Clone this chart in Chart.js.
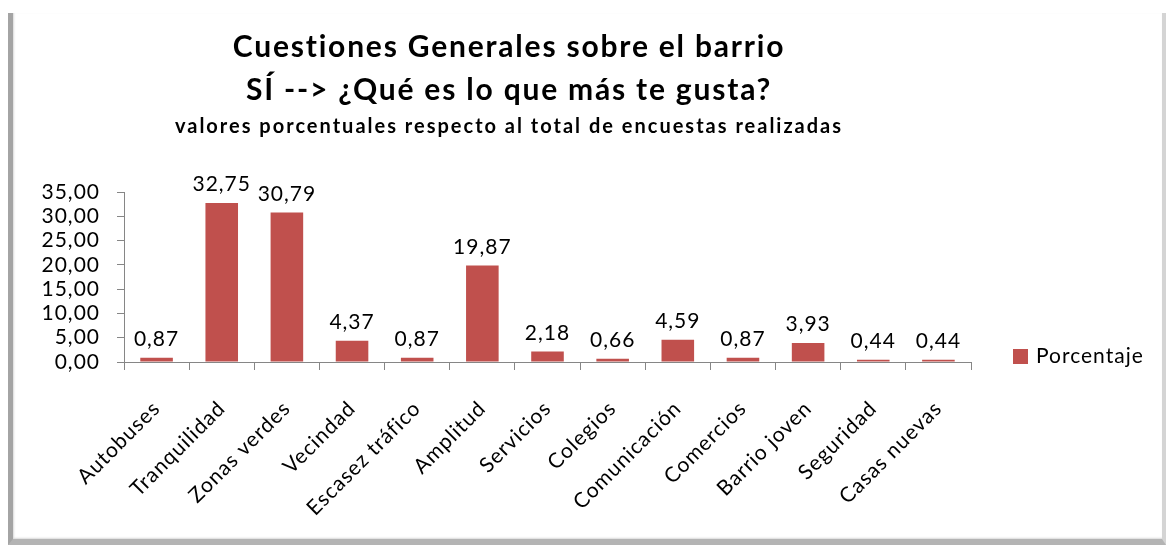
<!DOCTYPE html>
<html>
<head>
<meta charset="utf-8">
<script src="https://cdn.jsdelivr.net/npm/chart.js@4"></script>
<style>
  html, body { margin: 0; padding: 0; background: #fff; }
  #wrap { position: relative; width: 1166px; height: 545px; overflow: hidden; }
  #frame {
    position: absolute; left: 8px; top: 13px; width: 1158px; height: 532px; box-sizing: border-box;
    border-left: 5px solid #a4a4a4; border-bottom: 6px solid #b4b4b4; border-right: 4px solid #d4d4d4;
    box-shadow: inset 1px -1px 2px rgba(0,0,0,0.15);
  }
  #barrioChart { position: absolute; left: 0; top: 0; }
</style>
</head>
<body>
<div id="wrap">
  <div id="frame"></div>
  <canvas id="barrioChart" width="1166" height="545"></canvas>
</div>
<script>
const categories = ['Autobuses', 'Tranquilidad', 'Zonas verdes', 'Vecindad', 'Escasez tráfico', 'Amplitud',
  'Servicios', 'Colegios', 'Comunicación', 'Comercios', 'Barrio joven', 'Seguridad', 'Casas nuevas'];
const porcentaje = [0.87, 32.75, 30.79, 4.37, 0.87, 19.87, 2.18, 0.66, 4.59, 0.87, 3.93, 0.44, 0.44];
const titleLines = ['Cuestiones Generales sobre el barrio', 'SÍ --> ¿Qué es lo que más te gusta?'];
const subtitleText = 'valores porcentuales respecto al total de encuestas realizadas';

const FONT = 'Lato, "DejaVu Sans", sans-serif';
const BAR_COLOR = '#C0504D';
const fmt = v => v.toFixed(2).replace('.', ',');

// slightly loose letter spacing for every text on the canvas
const spacing = {
  id: 'spacing',
  beforeInit(chart) { chart.ctx.letterSpacing = '1px'; },
  beforeDraw(chart) { chart.ctx.letterSpacing = '1px'; }
};

// titles, centred a bit left of the middle of the canvas
const titlePlugin = {
  id: 'titles',
  afterDraw(chart) {
    const ctx = chart.ctx;
    ctx.save();
    ctx.fillStyle = '#000';
    ctx.textAlign = 'center';
    ctx.textBaseline = 'alphabetic';
    ctx.letterSpacing = '1.8px';
    ctx.font = 'bold 30px ' + FONT;
    ctx.fillText(titleLines[0], 509, 57);
    ctx.fillText(titleLines[1], 509, 100);
    ctx.letterSpacing = '2px';
    ctx.font = 'bold 20px ' + FONT;
    ctx.fillText(subtitleText, 509, 133);
    ctx.restore();
  }
};

// value labels above each bar
const valueLabels = {
  id: 'valueLabels',
  afterDatasetsDraw(chart) {
    const ctx = chart.ctx;
    const meta = chart.getDatasetMeta(0);
    ctx.save();
    ctx.fillStyle = '#000';
    ctx.font = '21px ' + FONT;
    ctx.textAlign = 'center';
    ctx.textBaseline = 'bottom';
    meta.data.forEach((bar, i) => {
      ctx.fillText(fmt(porcentaje[i]), bar.x, bar.y - 8);
    });
    ctx.restore();
  }
};

// legend entry sitting level with the x axis, right of the plot
const sideLegend = {
  id: 'sideLegend',
  afterDraw(chart) {
    const ctx = chart.ctx;
    const ds = chart.data.datasets[0];
    const y = chart.chartArea.bottom - 6;
    const x = chart.chartArea.right + 42;
    ctx.save();
    ctx.fillStyle = ds.backgroundColor;
    ctx.fillRect(x, y - 7, 15, 15);
    ctx.fillStyle = '#000';
    ctx.font = '21px ' + FONT;
    ctx.textAlign = 'left';
    ctx.textBaseline = 'middle';
    ctx.fillText(ds.label, x + 23, y);
    ctx.restore();
  }
};

new Chart(document.getElementById('barrioChart'), {
  type: 'bar',
  data: {
    labels: categories,
    datasets: [{
      label: 'Porcentaje',
      data: porcentaje,
      backgroundColor: BAR_COLOR,
      barPercentage: 1.0,
      categoryPercentage: 0.5
    }]
  },
  options: {
    responsive: false,
    animation: false,
    layout: { padding: { top: 192, left: 0, right: 195, bottom: 0 } },
    plugins: {
      legend: { display: false },
      tooltip: { enabled: false }
    },
    scales: {
      y: {
        min: 0,
        max: 35,
        afterFit(scale) { scale.width = 124; },
        ticks: {
          stepSize: 5,
          autoSkip: false,
          color: '#000',
          padding: 17,
          font: { family: FONT, size: 21 },
          callback: v => fmt(v)
        },
        grid: { drawOnChartArea: false, tickLength: 7, color: '#868686' },
        border: { color: '#868686' }
      },
      x: {
        afterFit(scale) { scale.height = 183; },
        ticks: {
          color: '#000',
          autoSkip: false,
          maxRotation: 45,
          minRotation: 45,
          labelOffset: 0,
          padding: 26,
          font: { family: FONT, size: 21 }
        },
        grid: { drawOnChartArea: false, tickLength: 8, color: '#868686' },
        border: { color: '#868686' }
      }
    }
  },
  plugins: [spacing, titlePlugin, valueLabels, sideLegend]
});
</script>
</body>
</html>
